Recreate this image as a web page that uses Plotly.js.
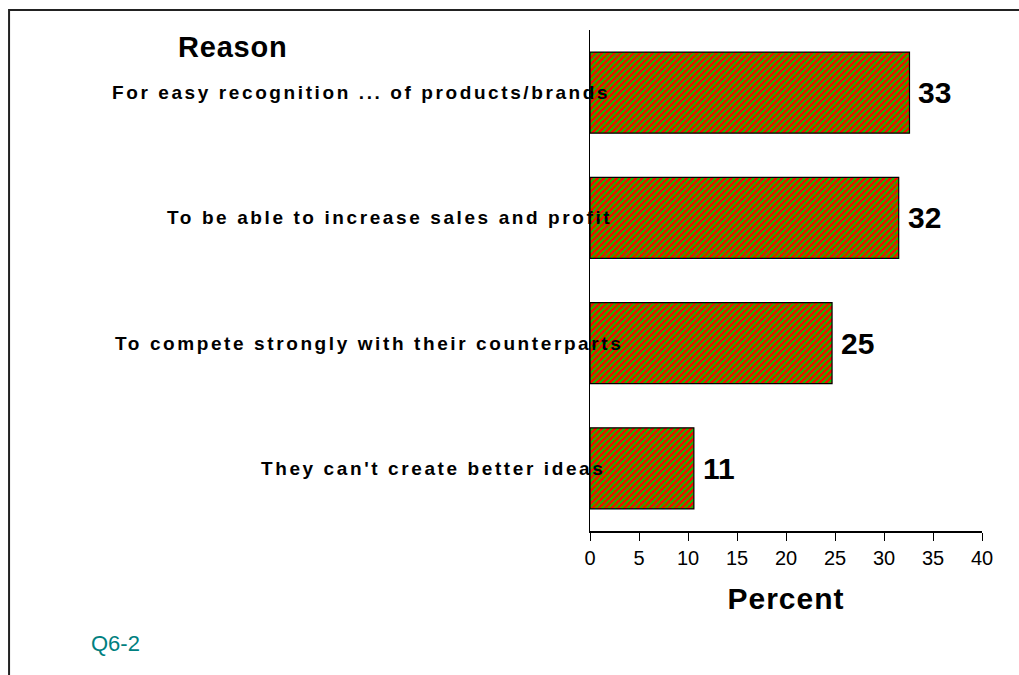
<!DOCTYPE html>
<html>
<head>
<meta charset="utf-8">
<script src="https://cdn.plot.ly/plotly-3.0.1.min.js"></script>
<style>
html, body { margin: 0; padding: 0; background: #fff; }
#chart { width: 1019px; height: 675px; }
text.annotation-text[style*="font-size: 19px"] { letter-spacing: 2.6px; }
text.annotation-text[style*="font-size: 29px"] { letter-spacing: 0.8px; }
text.xtitle { letter-spacing: 1px; }
</style>
</head>
<body>
<div id="chart"></div>
<script>
// Data
const categories = [
  "For easy recognition ... of products/brands",
  "To be able to increase sales and profit",
  "To compete strongly with their counterparts",
  "They can't create better ideas"
];
const percentValues = [32.6, 31.5, 24.7, 10.6];
const valueLabels = ["33", "32", "25", "11"];
const xTickValues = [0, 5, 10, 15, 20, 25, 30, 35, 40];
const xTickLabels = ["0", "5", "10", "15", "20", "25", "30", "35", "40"];
const axisTitleX = "Percent";
const categoryHeader = "Reason";
const footnote = "Q6-2";

// Styling/layout (positions in paper coordinates)
const labelRightEdges = [0.0565, 0.0616, 0.0896, 0.0437];
const FONT = "'Liberation Sans', Arial, sans-serif";

const trace = {
  type: "bar",
  orientation: "h",
  x: percentValues,
  y: categories,
  marker: {
    color: "#ff0000",
    pattern: { shape: "/", bgcolor: "#ff0000", fgcolor: "#00cc00", size: 4.5, solidity: 0.45, fillmode: "replace" },
    line: { color: "#000000", width: 1.2 }
  },
  hoverinfo: "none",
  showlegend: false
};

const annotations = [];
categories.forEach((c, i) => {
  annotations.push({
    xref: "paper", yref: "y", x: labelRightEdges[i], y: c,
    xanchor: "right", yanchor: "middle", showarrow: false,
    text: c, font: { family: FONT, size: 19, color: "#000", weight: "bold" },
    captureevents: false
  });
  annotations.push({
    xref: "x", yref: "y", x: percentValues[i], y: c,
    xanchor: "left", yanchor: "middle", xshift: 7, showarrow: false,
    text: valueLabels[i], font: { family: FONT, size: 30, color: "#000", weight: "bold" }
  });
});
annotations.push({
  xref: "paper", yref: "paper", x: -0.911, y: 0.966,
  xanchor: "center", yanchor: "middle", showarrow: false,
  text: categoryHeader, font: { family: FONT, size: 29, color: "#000", weight: "bold" }
});
annotations.push({
  xref: "paper", yref: "paper", x: -1.279, y: -0.2236,
  xanchor: "left", yanchor: "middle", showarrow: false,
  text: footnote, font: { family: FONT, size: 22, color: "#008080" }
});

const layout = {
  width: 1019, height: 675,
  margin: { l: 590, r: 37, t: 30, b: 144, pad: 0 },
  paper_bgcolor: "#ffffff", plot_bgcolor: "#ffffff",
  bargap: 0.353,
  font: { family: FONT, color: "#000" },
  xaxis: {
    range: [0, 40], tickvals: xTickValues, ticktext: xTickLabels,
    showgrid: false, zeroline: false,
    showline: true, linecolor: "#000", linewidth: 1.5,
    ticks: "outside", ticklen: 8, tickcolor: "#000", tickwidth: 1,
    tickfont: { family: FONT, size: 20, color: "#000" },
    title: { text: axisTitleX, font: { family: FONT, size: 30, color: "#000", weight: "bold" }, standoff: 20 },
    fixedrange: true
  },
  yaxis: {
    type: "category", categoryorder: "array", categoryarray: categories,
    autorange: "reversed",
    showgrid: false, zeroline: false, showticklabels: false, ticks: "",
    showline: true, linecolor: "#000", linewidth: 1.5,
    fixedrange: true
  },
  annotations: annotations,
  shapes: [{
    type: "rect", xref: "paper", yref: "paper",
    x0: -1.482, x1: 1.2, y0: -0.4, y1: 1.0399,
    line: { color: "#222", width: 2 }, fillcolor: "rgba(0,0,0,0)", layer: "below"
  }]
};

Plotly.newPlot("chart", [trace], layout, { displayModeBar: false, staticPlot: true });
</script>
</body>
</html>
